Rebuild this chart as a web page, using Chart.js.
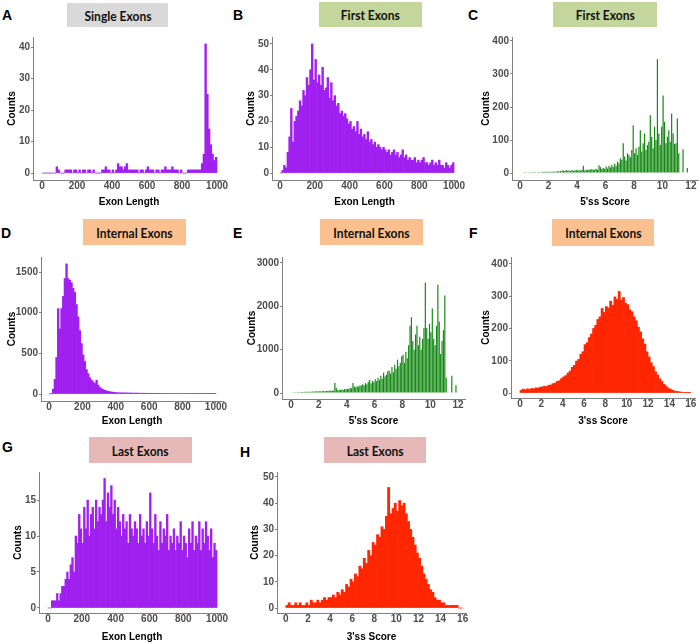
<!DOCTYPE html>
<html>
<head>
<meta charset="utf-8">
<script src="https://cdn.jsdelivr.net/npm/chart.js@4.4.1/dist/chart.umd.min.js"></script>
<style>
html, body { margin: 0; padding: 0; background: #fff; }
#fig { position: relative; width: 700px; height: 644px; overflow: hidden; }
#fig canvas { position: absolute; }
.tag { position: absolute; font: bold 14px 'Liberation Sans Narrow', 'Liberation Sans', Arial, sans-serif; line-height: 14px; color: #000; }
.box { position: absolute; display: flex; align-items: center; justify-content: center; }
.box span { display: inline-block; font: bold 14px Lato, 'Open Sans', sans-serif; color: #111; transform: scaleX(0.86); white-space: nowrap; }
</style>
</head>
<body>
<div id="fig"></div>
<script>
// bins: exon length 0..1000 by 10, splice scores by 0.1 (5'ss) and 0.2 (3'ss)
var lengthBinStart = 0, lengthBinWidth = 10;
var score5BinStart = 0, score5BinWidth = 0.1;
var score3BinStart = 0, score3BinWidth = 0.2;

// tick labels
var lengthTicks = [0, 200, 400, 600, 800, 1000];
var score5Ticks = [0, 2, 4, 6, 8, 10, 12];
var score3Ticks = [0, 2, 4, 6, 8, 10, 12, 14, 16];
var countTicksA = [0, 10, 20, 30, 40];
var countTicksB = [0, 10, 20, 30, 40, 50];
var countTicksC = [0, 100, 200, 300, 400];
var countTicksD = [0, 500, 1000, 1500];
var countTicksE = [0, 1000, 2000, 3000];
var countTicksF = [0, 100, 200, 300, 400];
var countTicksG = [0, 5, 10, 15];
var countTicksH = [0, 10, 20, 30, 40, 50];

// counts per bin
var singleExonLength = [
  0, 0, 0, 0, 0, 0, 0, 0,
  2, 1, 0, 0, 0, 1, 1, 1, 1, 0,
  1, 1, 0, 1, 0, 1, 1, 0, 1, 1,
  0, 1, 0, 0, 0, 0, 1, 1, 2, 1,
  1, 0, 1, 0, 1, 3, 2, 2, 1, 2,
  3, 1, 1, 1, 1, 1, 1, 0, 1, 1,
  0, 1, 2, 1, 1, 1, 0, 1, 1, 0,
  1, 1, 2, 1, 1, 1, 2, 1, 1, 1,
  0, 1, 0, 0, 0, 1, 1, 1, 1, 1,
  1, 1, 1, 3, 6, 41, 25, 14, 9, 6,
  4, 5
];
var firstExonLength = [
  0, 1, 3, 2, 8, 14, 25, 12, 20, 22,
  24, 28, 26, 32, 30, 37, 34, 40, 50, 36,
  44, 35, 38, 34, 41, 32, 33, 37, 29, 35,
  28, 30, 26, 27, 23, 24, 22, 23, 21, 19,
  20, 17, 18, 16, 20, 15, 17, 14, 15, 13,
  16, 12, 13, 11, 12, 10, 11, 10, 9, 10,
  9, 8, 9, 7, 8, 9, 7, 8, 6, 7,
  9, 6, 7, 5, 6, 5, 5, 6, 4, 5,
  4, 5, 6, 4, 4, 3, 4, 5, 3, 4,
  3, 5, 3, 3, 2, 4, 3, 2, 3, 4
];
var firstExon5ss = [
  0, 0, 1, 1, 1, 2, 1, 2, 3, 2,
  3, 2, 1, 3, 2, 4, 3, 4, 3, 4,
  4, 3, 5, 4, 5, 4, 6, 5, 6, 7,
  8, 6, 9, 7, 8, 6, 9, 7, 8, 10,
  8, 9, 7, 10, 22, 8, 10, 9, 11, 10,
  12, 9, 11, 13, 10, 24, 18, 12, 15, 13,
  20, 14, 22, 17, 25, 18, 28, 22, 35, 30,
  45, 40, 90, 50, 38, 60, 55, 48, 70, 145,
  60, 75, 55, 80, 130, 65, 90, 120, 70, 85,
  95, 175, 110, 75, 140, 100, 345, 120, 85, 140,
  235, 155, 90, 110, 130, 95, 180, 120, 88, 90,
  165, 60, 0, 0, 72, 0, 0, 15, 0, 0
];
var internalExonLength = [
  0, 5, 60, 180, 450, 1050, 800, 1050, 1200, 1420,
  1600, 1420, 1400, 1370, 1300, 1250, 1100, 950, 780, 620,
  480, 400, 300, 250, 200, 170, 150, 130, 170, 110,
  80, 65, 55, 45, 38, 32, 28, 25, 22, 20,
  16, 15, 15, 14, 14, 13, 13, 12, 12, 12,
  11, 11, 11, 10, 10, 10, 10, 9, 9, 9,
  9, 9, 8, 8, 8, 8, 8, 7, 7, 7,
  7, 7, 7, 7, 6, 6, 6, 6, 6, 6,
  6, 6, 6, 5, 5, 5, 5, 5, 5, 5,
  5, 5, 5, 5, 4, 4, 4, 4, 4, 4
];
var internalExon5ss = [
  10, 15, 18, 20, 18, 22, 20, 25, 22, 28,
  25, 30, 28, 32, 30, 35, 30, 38, 35, 40,
  38, 42, 40, 45, 42, 50, 45, 55, 50, 60,
  55, 230, 120, 65, 70, 75, 80, 70, 90, 85,
  100, 95, 120, 110, 230, 150, 130, 160, 140, 180,
  170, 200, 180, 230, 200, 260, 300, 220, 280, 250,
  320, 280, 350, 300, 400, 330, 470, 380, 420, 500,
  520, 450, 600, 480, 650, 560, 770, 620, 700, 850,
  880, 700, 950, 800, 1100, 1550, 1750, 1200, 1000, 1350,
  1550, 1100, 1300, 1000, 1250, 1500, 2550, 1500, 1250, 1600,
  1400, 1950, 1250, 1100, 1550, 2500, 1650, 900, 1200, 1450,
  2250, 350, 0, 0, 0, 400, 0, 0, 180, 0
];
var internalExon3ss = [
  8, 12, 10, 13, 11, 14, 13, 16, 15, 18,
  19, 21, 20, 24, 25, 29, 31, 36, 38, 45,
  50, 54, 62, 68, 80, 86, 99, 104, 120, 128,
  150, 156, 172, 183, 200, 210, 228, 236, 262, 250,
  268, 264, 285, 272, 298, 290, 315, 288, 296, 278,
  274, 258, 252, 236, 224, 204, 190, 168, 152, 128,
  112, 94, 82, 66, 56, 44, 36, 27, 21, 15,
  12, 9, 6, 5, 4, 3, 2, 2, 1, 1
];
var lastExonLength = [
  0, 0, 1, 1, 1, 2, 1, 2, 3, 3,
  4, 5, 4, 6, 7, 5, 10, 9, 13, 11,
  9, 14, 11, 15, 10, 13, 14, 11, 15, 12,
  14, 13, 15, 18, 12, 16, 14, 17, 13, 15,
  11, 14, 12, 10, 13, 11, 12, 9, 13, 11,
  10, 12, 11, 9, 13, 10, 11, 9, 12, 10,
  16, 11, 9, 13, 10, 8, 12, 9, 11, 10,
  13, 8, 10, 9, 11, 8, 10, 9, 12, 8,
  10, 9, 7, 11, 9, 12, 8, 10, 9, 12,
  8, 11, 9, 12, 10, 8, 11, 7, 9, 8
];
var lastExon3ss = [
  1, 2, 1, 1, 2, 1, 2, 1, 1, 2,
  1, 3, 2, 2, 3, 2, 3, 4, 3, 4,
  4, 5, 4, 6, 5, 7, 6, 9, 8, 11,
  10, 13, 12, 16, 15, 19, 17, 22, 20, 25,
  24, 28, 27, 31, 30, 35, 46, 36, 38, 40,
  37, 41, 39, 40, 36, 33, 30, 27, 24, 21,
  19, 16, 13, 11, 9, 7, 6, 4, 3, 3,
  2, 2, 1, 1, 1, 1, 1, 1, 0, 0
];

var PURPLE = '#a020f0', GREEN = 'rgb(20,138,20)', RED = '#ff2600';
var GREY_BOX = '#d9d9d9', GREEN_BOX = '#c3d69b', ORANGE_BOX = '#fac090', PINK_BOX = '#e6b9b8';

Chart.defaults.font.family = "'Liberation Sans Narrow', 'Liberation Sans', Arial, sans-serif";

// L/R/T/B: axis lines in page px; countsX / xTitleY: centre of the axis titles
var panels = [
  { tag: 'A', tagPos: [2, 8], title: 'Single Exons', box: [67, 3, 101, 24], boxColor: GREY_BOX,
    values: singleExonLength, start: lengthBinStart, width: lengthBinWidth, color: PURPLE, barPct: 1,
    xTitle: 'Exon Length', xTicks: lengthTicks, yTicks: countTicksA,
    L: 33, R: 225, T: 37, B: 180, xmin: -51.4, xmax: 1045.7, ymin: -2.2, ymax: 43.2, countsX: 12, xTitleY: 202 },
  { tag: 'B', tagPos: [233, 8], title: 'First Exons', box: [319, 2, 103, 25], boxColor: GREEN_BOX,
    values: firstExonLength, start: lengthBinStart, width: lengthBinWidth, color: PURPLE, barPct: 1,
    xTitle: 'Exon Length', xTicks: lengthTicks, yTicks: countTicksB,
    L: 272, R: 457, T: 37, B: 180, xmin: -46, xmax: 1017, ymin: -2.7, ymax: 52.7, countsX: 251, xTitleY: 202 },
  { tag: 'C', tagPos: [468, 8], title: 'First Exons', box: [553, 2, 104, 25], boxColor: GREEN_BOX,
    values: firstExon5ss, start: score5BinStart, width: score5BinWidth, color: GREEN, barPct: 0.85,
    xTitle: "5'ss Score", xTicks: score5Ticks, yTicks: countTicksC,
    L: 512, R: 698, T: 37, B: 180, xmin: -0.56, xmax: 12.5, ymin: -21, ymax: 412, countsX: 486, xTitleY: 202 },
  { tag: 'D', tagPos: [1, 226], title: 'Internal Exons', box: [83, 219, 103, 26], boxColor: ORANGE_BOX,
    values: internalExonLength, start: lengthBinStart, width: lengthBinWidth, color: PURPLE, barPct: 1,
    xTitle: 'Exon Length', xTicks: lengthTicks, yTicks: countTicksD,
    L: 41, R: 223, T: 257, B: 401, xmin: -48, xmax: 1042, ymin: -86, ymax: 1685, countsX: 12, xTitleY: 421 },
  { tag: 'E', tagPos: [233, 226], title: 'Internal Exons', box: [320, 219, 103, 26], boxColor: ORANGE_BOX,
    values: internalExon5ss, start: score5BinStart, width: score5BinWidth, color: GREEN, barPct: 0.85,
    xTitle: "5'ss Score", xTicks: score5Ticks, yTicks: countTicksE,
    L: 282, R: 465, T: 257, B: 399, xmin: -0.65, xmax: 12.5, ymin: -138, ymax: 3138, countsX: 252, xTitleY: 421 },
  { tag: 'F', tagPos: [469, 226], title: 'Internal Exons', box: [552, 219, 102, 27], boxColor: ORANGE_BOX,
    values: internalExon3ss, start: score3BinStart, width: score3BinWidth, color: RED, barPct: 1,
    xTitle: "3'ss Score", xTicks: score3Ticks, yTicks: countTicksF,
    L: 511, R: 695, T: 257, B: 398, xmin: -0.84, xmax: 16.4, ymin: -15.5, ymax: 421.7, countsX: 486, xTitleY: 421 },
  { tag: 'G', tagPos: [2, 440], title: 'Last Exons', box: [89, 437, 103, 26], boxColor: PINK_BOX,
    values: lastExonLength, start: lengthBinStart, width: lengthBinWidth, color: PURPLE, barPct: 1,
    xTitle: 'Exon Length', xTicks: lengthTicks, yTicks: countTicksG,
    L: 39, R: 225, T: 472, B: 613, xmin: -53, xmax: 1047, ymin: -0.7, ymax: 18.9, countsX: 18, xTitleY: 637 },
  { tag: 'H', tagPos: [240, 445], title: 'Last Exons', box: [324, 437, 102, 26], boxColor: PINK_BOX,
    values: lastExon3ss, start: score3BinStart, width: score3BinWidth, color: RED, barPct: 1,
    xTitle: "3'ss Score", xTicks: score3Ticks, yTicks: countTicksH,
    L: 277, R: 466, T: 472, B: 613, xmin: -0.8, xmax: 16.3, ymin: -1.9, ymax: 51.9, countsX: 255, xTitleY: 637 }
];

var fig = document.getElementById('fig');
var AXIS = '#808080', TICKTXT = '#4d4d4d';
var tickFont = { size: 10, weight: 'bold' };
var titleFont = { size: 10, weight: 'bold', lineHeight: 1.2 };
function plain(v) { return String(v); }

function addPanel(p) {
  var tag = document.createElement('div');
  tag.className = 'tag';
  tag.textContent = p.tag;
  tag.style.left = p.tagPos[0] + 'px';
  tag.style.top = p.tagPos[1] + 'px';
  fig.appendChild(tag);

  var box = document.createElement('div');
  box.className = 'box';
  box.style.left = p.box[0] + 'px';
  box.style.top = p.box[1] + 'px';
  box.style.width = p.box[2] + 'px';
  box.style.height = p.box[3] + 'px';
  box.style.background = p.boxColor;
  box.innerHTML = '<span></span>';
  box.firstChild.textContent = p.title;
  fig.appendChild(box);

  var lh = 12; // title line height
  var padTop = 8, padRight = 14;
  var cl = p.countsX - lh / 2, ct = p.T - padTop;
  var cr = p.R + padRight, cb = p.xTitleY + lh / 2;
  var cv = document.createElement('canvas');
  cv.width = cr - cl;
  cv.height = cb - ct;
  cv.style.left = cl + 'px';
  cv.style.top = ct + 'px';
  cv.style.width = (cr - cl) + 'px';
  cv.style.height = (cb - ct) + 'px';
  fig.appendChild(cv);

  var yW = p.L - cl, xH = cb - p.B;
  var pts = p.values.map(function(v, i) {
    return { x: p.start + (i + 0.5) * p.width, y: v };
  });

  new Chart(cv, {
    type: 'bar',
    data: {
      datasets: [{
        data: pts,
        backgroundColor: p.color,
        borderWidth: 0,
        barPercentage: p.barPct,
        categoryPercentage: 1
      }]
    },
    options: {
      responsive: false,
      animation: false,
      devicePixelRatio: 1,
      layout: { padding: { left: 0, top: padTop, right: padRight, bottom: 0 } },
      plugins: { legend: { display: false }, tooltip: { enabled: false } },
      scales: {
        x: {
          type: 'linear', min: p.xmin, max: p.xmax, offset: false,
          afterFit: function(s) { s.height = xH; },
          afterBuildTicks: function(s) { s.ticks = p.xTicks.map(function(v) { return { value: v }; }); },
          grid: { display: true, drawOnChartArea: false, drawTicks: true, tickLength: 2, color: AXIS, offset: false },
          border: { display: true, color: AXIS, width: 1 },
          ticks: { padding: -2, color: TICKTXT, font: tickFont, maxRotation: 0, autoSkip: false, callback: plain },
          title: { display: true, text: p.xTitle, color: '#000', font: titleFont, padding: 0 }
        },
        y: {
          type: 'linear', min: p.ymin, max: p.ymax,
          afterFit: function(s) { s.width = yW; },
          afterBuildTicks: function(s) { s.ticks = p.yTicks.map(function(v) { return { value: v }; }); },
          grid: { display: true, drawOnChartArea: false, drawTicks: true, tickLength: 2, color: AXIS },
          border: { display: true, color: AXIS, width: 1 },
          ticks: { padding: 1, color: TICKTXT, font: tickFont, autoSkip: false, callback: plain },
          title: { display: true, text: 'Counts', color: '#000', font: titleFont, padding: 0 }
        }
      }
    }
  });
}

panels.forEach(addPanel);
</script>
</body>
</html>
